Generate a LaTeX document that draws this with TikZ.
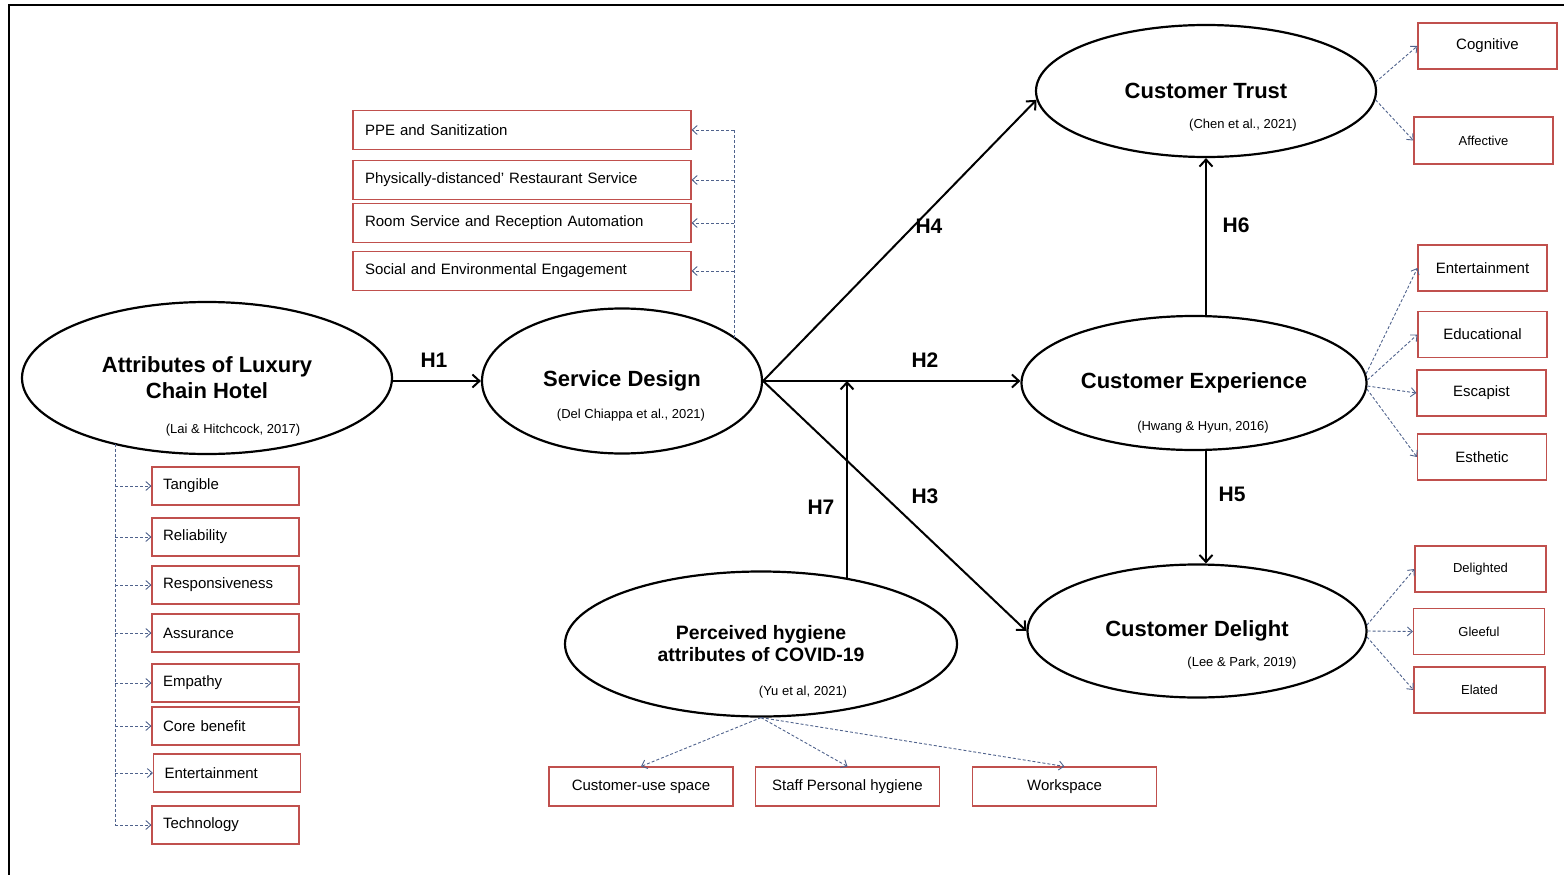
\documentclass[tikz,border=0pt]{standalone}
\usepackage{fontspec}
\setmainfont{Liberation Sans}
\usetikzlibrary{arrows.meta,shapes.geometric}
\definecolor{boxred}{RGB}{192,80,77}
\definecolor{linkblue}{RGB}{79,98,140}

\begin{document}
\begin{tikzpicture}[x=1pt,y=-1pt,
  construct/.style={ellipse,draw,line width=2.2pt,inner sep=0pt,align=center,
    font=\fontsize{22}{26}\selectfont\bfseries},
  citation/.style={font=\fontsize{13}{15}\selectfont},
  hyplabel/.style={font=\fontsize{21}{24}\selectfont\bfseries},
  hyparrow/.style={-{Straight Barb[length=7pt,width=13pt]},line width=2pt},
  dimbox/.style={draw=boxred,line width=1.1pt,inner sep=0pt,
    font=\fontsize{15}{18}\selectfont},
  dimleft/.style={dimbox,text width=#1,align=left,inner xsep=11pt,minimum height=38pt},
  dimlink/.style={-{Straight Barb[length=5pt,width=9pt]},linkblue,line width=0.9pt,
    dash pattern=on 3pt off 2pt},
  dimline/.style={linkblue,line width=0.9pt,dash pattern=on 3pt off 2pt},
]
\useasboundingbox (0,0) rectangle (1564,875);
\draw[line width=2.5pt] (9,875) -- (9,5) -- (1564,5);

% constructs
\node[construct,minimum width=370pt,minimum height=152pt] (attr) at (207,378) {Attributes of Luxury\\Chain Hotel};
\node[citation] (attrcite) at (233,430) {(Lai \& Hitchcock, 2017)};
\node[construct,minimum width=280pt,minimum height=145pt] (sd) at (622,381) {Service Design};
\node[citation] (sdcite) at (631,415) {(Del Chiappa et al., 2021)};
\node[construct,minimum width=340pt,minimum height=132pt] (trust) at (1206,91) {Customer Trust};
\node[citation] (trustcite) at (1243,125) {(Chen et al., 2021)};
\node[construct,minimum width=345pt,minimum height=134pt] (exp) at (1194,383) {Customer Experience};
\node[citation] (expcite) at (1203,427) {(Hwang \& Hyun,  2016)};
\node[construct,minimum width=339pt,minimum height=133pt] (delight) at (1197,631) {Customer Delight};
\node[citation] (delightcite) at (1242,663) {(Lee \& Park, 2019)};
\node[construct,minimum width=392pt,minimum height=145pt,
  font=\fontsize{19.4}{22}\selectfont\bfseries] (hyg) at (761,644) {Perceived hygiene\\attributes of COVID-19};
\node[citation] (hygcite) at (803,692) {(Yu et al, 2021)};

% hypotheses
\draw[hyparrow] (attr.east |- sd.west) -- (sd.west);
\draw[hyparrow] (sd.east) -- (sd.east -| exp.west);
\draw[hyparrow] (sd.east) -- (trust.183);
\draw[hyparrow] (sd.east) -- (delight.west);
\draw[hyparrow] (trust.south |- exp.north) -- (trust.south);
\draw[hyparrow] (trust.south |- exp.south) -- (trust.south |- delight.north);
\coordinate (h7foot) at (847,579);
\draw[hyparrow] (h7foot) -- (h7foot |- sd.east);
\node[hyplabel] (h1) at (434,360) {H1};
\node[hyplabel] (h2) at (925,360) {H2};
\node[hyplabel] (h3) at (925,496) {H3};
\node[hyplabel] (h4) at (929,226) {H4};
\node[hyplabel] (h5) at (1232,494) {H5};
\node[hyplabel] (h6) at (1236,225) {H6};
\node[hyplabel] (h7) at (821,507) {H7};

% hotel attributes
\foreach \name/\txt/\x/\y in {tangible/Tangible/225.5/486, reliability/Reliability/225.5/537,
    responsive/Responsiveness/225.5/585, assurance/Assurance/225.5/633,
    empathy/Empathy/225.5/683, corebenefit/Core benefit/225.5/726,
    entertain/Entertainment/227/773, technology/Technology/225.5/825}
  \node[dimleft=125pt] (\name) at (\x,\y) {\txt};
\coordinate (attrfoot) at (115,444);
\draw[dimline] (attrfoot) -- (attrfoot |- technology.west);
\foreach \name in {tangible,reliability,responsive,assurance,empathy,corebenefit,entertain,technology}
  \draw[dimlink] (attrfoot |- \name.west) -- (\name.west);

% service design dimensions
\foreach \name/\txt/\y in {ppe/PPE and Sanitization/130,
    distanced/Physically-distanced' Restaurant Service/180,
    automation/Room Service and Reception Automation/223,
    engagement/Social and Environmental Engagement/271}
  \node[dimleft=314pt,inner xsep=12pt,minimum height=39pt] (\name) at (522,\y) {\txt};
\coordinate (sdtop) at (734,338);
\draw[dimline] (sdtop) -- (sdtop |- ppe.east);
\foreach \name in {ppe,distanced,automation,engagement}
  \draw[dimlink] (sdtop |- \name.east) -- (\name.east);

% trust dimensions
\node[dimbox,minimum width=139pt,minimum height=46pt] (cognitive) at (1487.5,46) {Cognitive};
\node[dimbox,minimum width=139pt,minimum height=47pt,font=\fontsize{13}{15}\selectfont] (affective) at (1483.5,140.5) {Affective};
\draw[dimlink] (trust.3) -- (cognitive.west);
\draw[dimlink] (trust.-3) -- (affective.west);

% experience dimensions
\foreach \name/\txt/\x/\y in {entexp/Entertainment/1482.5/268, educational/Educational/1482.5/334.5,
    escapist/Escapist/1481.5/393, esthetic/Esthetic/1482/457}
  \node[dimbox,minimum width=129pt,minimum height=46pt] (\name) at (\x,\y) {\txt};
\foreach \a/\name in {3/entexp,1/educational,-1/escapist,-2/esthetic}
  \draw[dimlink] (exp.\a) -- (\name.west);

% delight dimensions
\foreach \name/\txt/\x/\y in {delighted/Delighted/1480.5/569, gleeful/Gleeful/1479/631.5,
    elated/Elated/1479.5/690}
  \node[dimbox,minimum width=131pt,minimum height=46pt,font=\fontsize{13}{15}\selectfont] (\name) at (\x,\y) {\txt};
\foreach \a/\name in {2/delighted,0/gleeful,-2/elated}
  \draw[dimlink] (delight.\a) -- (\name.west);

% hygiene dimensions
\foreach \name/\txt/\x in {usespace/Customer-use space/641, staffhyg/Staff Personal hygiene/847.5,
    workspace/Workspace/1064.5}
  \node[dimbox,minimum width=184pt,minimum height=39pt] (\name) at (\x,786.5) {\txt};
\foreach \name in {usespace,staffhyg,workspace}
  \draw[dimlink] (hyg.south) -- (\name.north);
\end{tikzpicture}
\end{document}
